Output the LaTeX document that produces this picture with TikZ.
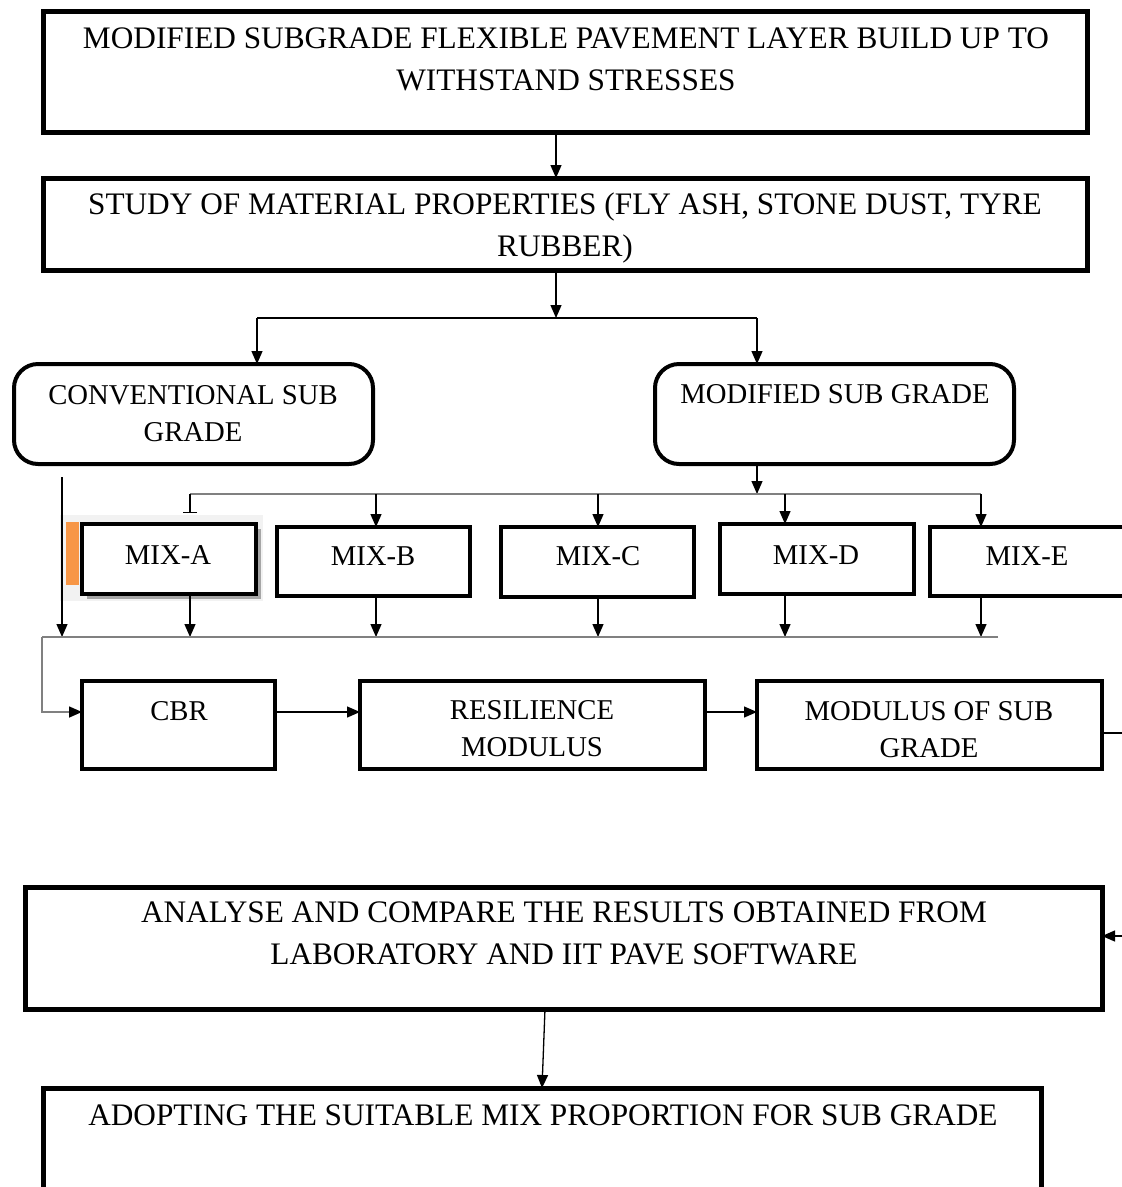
\documentclass[tikz,border=0pt]{standalone}
\usepackage{fontspec}
\setmainfont{Liberation Serif}
\usetikzlibrary{arrows.meta}
\definecolor{lgrey}{HTML}{808080}
\definecolor{orng}{HTML}{F79646}
\tikzset{
  box/.style={draw, line width=5pt, outer sep=0pt, inner sep=0pt},
  rbox/.style={draw, line width=4pt, rounded corners=24pt, outer sep=0pt, inner sep=0pt},
  mbox/.style={draw, line width=4.5pt, outer sep=0pt, inner sep=0pt},
  bigtxt/.style={anchor=north, inner sep=0pt, align=center, font=\fontsize{31.3}{41.5}\selectfont},
  smalltxt/.style={anchor=north, inner sep=0pt, align=center, font=\fontsize{28.7}{37}\selectfont},
  arr/.style={draw, line width=1.3pt, -{Triangle[length=13pt,width=11pt]}},
  ln/.style={draw, line width=1.3pt},
  gln/.style={draw=lgrey, line width=1.6pt},
  garr/.style={draw=lgrey, line width=1.6pt, -{Triangle[length=13pt,width=11pt,color=black]}},
  tee/.style={draw, line width=1.3pt, -{Bar[width=14pt,line width=1.3pt]}}
}
\begin{document}
\begin{tikzpicture}[x=1pt,y=-1pt]
\useasboundingbox (0,0) rectangle (1122,1187);
\clip (0,0) rectangle (1122,1187);
\fill[white] (0,0) rectangle (1122,1187);

% boxes
\node[box, minimum width=1044pt, minimum height=121pt] (b1) at (565,71.5) {};
\node[box, minimum width=1044pt, minimum height=92pt] (b2) at (565,224) {};
\node[rbox, minimum width=359pt, minimum height=100pt] (b3) at (193.5,414) {};
\node[rbox, minimum width=359pt, minimum height=100pt] (b4) at (834.5,414) {};

% MIX-A background, shadow and orange bar
\fill[black!5] (60,515) rectangle (263,601);
\fill[orng] (66,522) rectangle (79,585);
\fill[black!35] (87,529) rectangle (261,599);
\node[mbox, fill=white, minimum width=174pt, minimum height=70pt] (mA) at (169,559) {};
\node[mbox, minimum width=193pt, minimum height=69pt] (mB) at (373.5,561.5) {};
\node[mbox, minimum width=193pt, minimum height=70pt] (mC) at (597.5,562) {};
\node[mbox, minimum width=194pt, minimum height=70pt] (mD) at (817,559) {};
\node[mbox, minimum width=195pt, minimum height=69pt] (mE) at (1027.5,561.5) {};

\node[mbox, minimum width=193pt, minimum height=88pt] (cbr) at (178.5,725) {};
\node[mbox, minimum width=345pt, minimum height=88pt] (res) at (532.5,725) {};
\node[mbox, minimum width=345pt, minimum height=88pt] (mod) at (929.5,725) {};

\node[box, minimum width=1077pt, minimum height=122pt] (ana) at (563.5,948) {};
\node[box, minimum width=998pt, minimum height=110pt] (ado) at (542,1143) {};

% texts
\node[bigtxt] (t1) at (566,28) {MODIFIED SUBGRADE FLEXIBLE PAVEMENT LAYER BUILD UP TO\\WITHSTAND STRESSES};
\node[bigtxt] (t2) at (565,193) {STUDY OF MATERIAL PROPERTIES (FLY ASH, STONE DUST, TYRE\\RUBBER)};
\node[smalltxt] (t3) at (193,385) {CONVENTIONAL SUB\\GRADE};
\node[smalltxt] (t4) at (835,384) {MODIFIED SUB GRADE};
\node[smalltxt] (tA) at (168,545) {MIX-A};
\node[smalltxt] (tB) at (373,546) {MIX-B};
\node[smalltxt] (tC) at (598,546) {MIX-C};
\node[smalltxt] (tD) at (816,545) {MIX-D};
\node[smalltxt] (tE) at (1027,546) {MIX-E};
\node[smalltxt] (tcbr) at (179,701) {CBR};
\node[smalltxt] (tres) at (532,700) {RESILIENCE\\MODULUS};
\node[smalltxt] (tmod) at (929,701) {MODULUS OF SUB\\GRADE};
\node[bigtxt] (tana) at (564,902) {ANALYSE AND COMPARE THE RESULTS OBTAINED FROM\\LABORATORY AND IIT PAVE SOFTWARE};
\node[bigtxt] (tado) at (543,1105) {ADOPTING THE SUITABLE MIX PROPORTION FOR SUB GRADE};

% junction coordinates
\coordinate (j1) at (556,318);
\coordinate (j1l) at (257,318);
\coordinate (j1r) at (757,318);
\coordinate (j2) at (757,494);
\coordinate (j2l) at (190,494);
\coordinate (j2r) at (981,494);
\coordinate (c1) at (62,477);
\coordinate (j3l) at (42,637);
\coordinate (j3r) at (998,637);
\coordinate (e1) at (1122,733);
\coordinate (e2) at (1122,936);

% connectors
\draw[arr] (556,0 |- b1.south) -- (556,0 |- b2.north);
\draw[arr] (556,0 |- b2.south) -- (j1);
\draw[ln] (j1l) -- (j1r);
\draw[arr] (j1l) -- (j1l |- b3.north);
\draw[arr] (j1r) -- (j1r |- b4.north);
\draw[arr] (757,0 |- b4.south) -- (j2);
\draw[gln] (j2l) -- (j2r);
\draw[tee] (j2l) -- (190,513);
\draw[arr] (376,494) -- (376,0 |- mB.north);
\draw[arr] (598,494) -- (598,0 |- mC.north);
\draw[arr] (785,494) -- (785,0 |- mD.north);
\draw[arr] (j2r) -- (981,0 |- mE.north);

\draw[arr] (c1) -- (62,637);
\draw[arr] (190,0 |- mA.south) -- (190,637);
\draw[arr] (376,0 |- mB.south) -- (376,637);
\draw[arr] (598,0 |- mC.south) -- (598,637);
\draw[arr] (785,0 |- mD.south) -- (785,637);
\draw[arr] (981,0 |- mE.south) -- (981,637);
\draw[gln] (j3r) -- (j3l);
\draw[garr] (j3l) -- (42,712) -- (cbr.west |- 0,712);

\draw[arr] (cbr.east |- 0,712) -- (res.west |- 0,712);
\draw[arr] (res.east |- 0,712) -- (mod.west |- 0,712);
\draw[ln] (mod.east |- e1) -- (e1);
\draw[arr] (e2) -- (ana.east |- e2);
\draw[arr] (545,0 |- ana.south) -- (542,0 |- ado.north);
\end{tikzpicture}
\end{document}
